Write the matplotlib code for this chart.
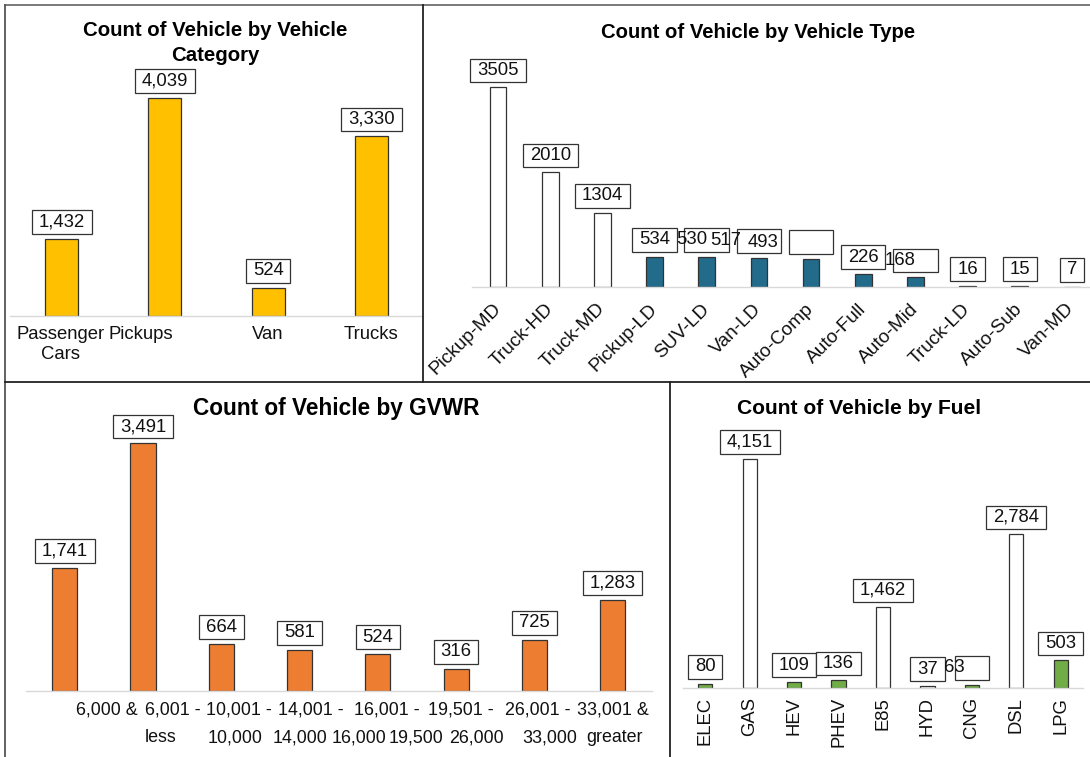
import matplotlib
matplotlib.use("Agg")
import matplotlib.pyplot as plt
from matplotlib.lines import Line2D
from matplotlib.path import Path

# ---- data -------------------------------------------------------------
category_names = ["Passenger\nCars", "Pickups", "Van", "Trucks"]
category_counts = [1432, 4039, 524, 3330]

type_names = ["Pickup-MD", "Truck-HD", "Truck-MD", "Pickup-LD", "SUV-LD", "Van-LD",
              "Auto-Comp", "Auto-Full", "Auto-Mid", "Truck-LD", "Auto-Sub", "Van-MD"]
type_counts = [3505, 2010, 1304, 534, 530, 517, 493, 226, 168, 16, 15, 7]

gvwr_names = ["6,000 &\nless", "6,001 -\n10,000", "10,001 -\n14,000", "14,001 -\n16,000",
              "16,001 -\n19,500", "19,501 -\n26,000", "26,001 -\n33,000", "33,001 &\ngreater"]
gvwr_counts = [1741, 3491, 664, 581, 524, 316, 725, 1283]

fuel_names = ["ELEC", "GAS", "HEV", "PHEV", "E85", "HYD", "CNG", "DSL", "LPG"]
fuel_counts = [80, 4151, 109, 136, 1462, 37, 63, 2784, 503]

# ---- styling ----------------------------------------------------------
W, H = 1090, 757
FONT = ["Liberation Sans", "Arial", "DejaVu Sans"]
plt.rcParams["font.family"] = FONT

GOLD = "#FFC000"
ORANGE = "#ED7D31"
TEAL = "#226B8B"
GREEN = "#70AD47"
EDGE = "#333333"
AXIS_LINE = "#D9D9D9"
TXT = "#111111"

type_colors = ["white"] * 3 + [TEAL] * 9
fuel_colors = [GREEN, "white", GREEN, GREEN, "white", "white", GREEN, "white", GREEN]

# horizontal text shifts (px) of value labels whose text drifts off its frame
type_label_dx = [0, 0, 0, 0, -15, -33, -48, 0, -15, 0, 0, 0]
fuel_label_dx = [0, 0, 0, 0, 0, 0, -18, 0, 0]
# horizontal shifts (px) of the category axis labels
category_tick_dx = [-1, -24, 0, 0]

LABEL_SIZE = 13.3
TICK_SIZE = 13.3
GVWR_TICK_SIZE = 12.9
BAR_W = 0.32
PX = 0.72  # points per pixel at 100 dpi


def label_frame(x0, y0, width, height, mutation_size):
    px = 0.37 * mutation_size
    py = 0.18 * mutation_size
    x0, y0 = x0 - px, y0 - py
    x1, y1 = x0 + width + 2 * px, y0 + height + 2 * py
    return Path([(x0, y0), (x1, y0), (x1, y1), (x0, y1), (x0, y0)], closed=True)


def px_axes(fig, left, right, base, top):
    return fig.add_axes([left / W, 1 - base / H, (right - left) / W, (base - top) / H])


def fig_xy(x, y):
    return x / W, 1 - y / H


def style_axes(ax, n, ymax):
    ax.set_xlim(-0.5, n - 0.5)
    ax.set_ylim(0, ymax)
    for s in ("left", "right", "top"):
        ax.spines[s].set_visible(False)
    ax.spines["bottom"].set_color(AXIS_LINE)
    ax.spines["bottom"].set_linewidth(1.0)
    ax.set_yticks([])
    ax.tick_params(axis="x", length=0)
    ax.patch.set_alpha(0)


def value_labels(ax, counts, fmt, dxs=None):
    for i, v in enumerate(counts):
        txt = fmt(v)
        dx = 0 if dxs is None else dxs[i]
        ax.annotate(txt, (i, v), xytext=(0, 6.0), textcoords="offset points",
                    ha="center", va="bottom", fontsize=LABEL_SIZE, color="none",
                    bbox=dict(boxstyle=label_frame, fc="white", ec=EDGE, lw=0.9),
                    annotation_clip=False)
        ax.annotate(txt, (i, v), xytext=(dx * PX, 6.0), textcoords="offset points",
                    ha="center", va="bottom", fontsize=LABEL_SIZE, color=TXT,
                    annotation_clip=False)


comma = lambda v: f"{v:,}"
plain = lambda v: f"{v}"

fig = plt.figure(figsize=(W / 100, H / 100), dpi=100)
fig.patch.set_facecolor("white")

# ---- Vehicle Category -------------------------------------------------
ax1 = px_axes(fig, 10, 423, 316, 60)
style_axes(ax1, len(category_counts), (316 - 60) / 0.0540)
ax1.bar(range(len(category_counts)), category_counts, width=BAR_W, color=GOLD,
        edgecolor=EDGE, linewidth=0.9)
value_labels(ax1, category_counts, comma)
ax1.set_xticks([])
for i, name in enumerate(category_names):
    ax1.annotate(name, (i, 0), xytext=(category_tick_dx[i] * PX, -10 * PX),
                 textcoords="offset points", ha="center", va="top",
                 fontsize=TICK_SIZE, color=TXT, linespacing=1.22,
                 annotation_clip=False)
fig.text(*fig_xy(215, 43), "Count of Vehicle by Vehicle\nCategory", ha="center",
         va="center", fontsize=14.7, fontweight="bold", color="black", linespacing=1.38)

# ---- Vehicle Type -----------------------------------------------------
ax2 = px_axes(fig, 472, 1098, 287, 50)
style_axes(ax2, len(type_counts), (287 - 50) / 0.0570)
ax2.bar(range(len(type_counts)), type_counts, width=BAR_W, color=type_colors,
        edgecolor=EDGE, linewidth=0.9)
value_labels(ax2, type_counts, plain, type_label_dx)
ax2.set_xticks(range(len(type_names)))
ax2.set_xticklabels(type_names, fontsize=13.8, color=TXT, rotation=45,
                    rotation_mode="anchor", ha="right", va="center")
ax2.tick_params(axis="x", pad=14)
fig.text(*fig_xy(758, 32), "Count of Vehicle by Vehicle Type", ha="center",
         va="center", fontsize=14.6, fontweight="bold", color="black")

# ---- GVWR -------------------------------------------------------------
ax3 = px_axes(fig, 25.6, 651.7, 691, 400)
style_axes(ax3, len(gvwr_counts), (691 - 400) / 0.0709)
ax3.bar(range(len(gvwr_counts)), gvwr_counts, width=BAR_W, color=ORANGE,
        edgecolor=EDGE, linewidth=0.9)
value_labels(ax3, gvwr_counts, comma)
ax3.set_xticks([])
# two-line range labels, each line nudged right of its bar (px)
gvwr_line1_dx = [42, 30, 18, 11.5, 9.5, 4.5, 3.5, 0]
gvwr_line2_dx = [95.5, 92, 79, 59.5, 38, 20, 15, 2]
for i, name in enumerate(gvwr_names):
    top_line, bottom_line = name.split("\n")
    ax3.annotate(top_line, (i, 0), xytext=(gvwr_line1_dx[i] * PX, -19 * PX),
                 textcoords="offset points", ha="center", va="center",
                 fontsize=GVWR_TICK_SIZE, color=TXT, annotation_clip=False)
    ax3.annotate(bottom_line, (i, 0), xytext=(gvwr_line2_dx[i] * PX, -47 * PX),
                 textcoords="offset points", ha="center", va="center",
                 fontsize=GVWR_TICK_SIZE, color=TXT, annotation_clip=False)
fig.text(*fig_xy(336, 409), "Count of Vehicle by GVWR", ha="center", va="center",
         fontsize=16.3, fontweight="bold", color="black")

# ---- Fuel -------------------------------------------------------------
ax4 = px_axes(fig, 683, 1083, 688, 400)
style_axes(ax4, len(fuel_counts), (688 - 400) / 0.0552)
ax4.bar(range(len(fuel_counts)), fuel_counts, width=BAR_W, color=fuel_colors,
        edgecolor=EDGE, linewidth=0.9)
value_labels(ax4, fuel_counts, comma, fuel_label_dx)
ax4.set_xticks(range(len(fuel_names)))
ax4.set_xticklabels(fuel_names, fontsize=TICK_SIZE, color=TXT, rotation=90,
                    rotation_mode="anchor", ha="right", va="center")
ax4.tick_params(axis="x", pad=6.5)
fig.text(*fig_xy(859, 408), "Count of Vehicle by Fuel", ha="center", va="center",
         fontsize=15.1, fontweight="bold", color="black")

# ---- panel frames -----------------------------------------------------
frame_segments = [
    ((5, 5), (1090, 5), "#6f6f6f"),
    ((5, 5), (5, 757), "#555555"),
    ((423, 5), (423, 382), "#222222"),
    ((5, 382), (1090, 382), "#222222"),
    ((670, 382), (670, 757), "#222222"),
]
for (xa, ya), (xb, yb), col in frame_segments:
    p0, p1 = fig_xy(xa, ya), fig_xy(xb, yb)
    fig.add_artist(Line2D([p0[0], p1[0]], [p0[1], p1[1]], transform=fig.transFigure,
                          color=col, linewidth=1.3))

fig.savefig("out.png", dpi=100, facecolor="white")
